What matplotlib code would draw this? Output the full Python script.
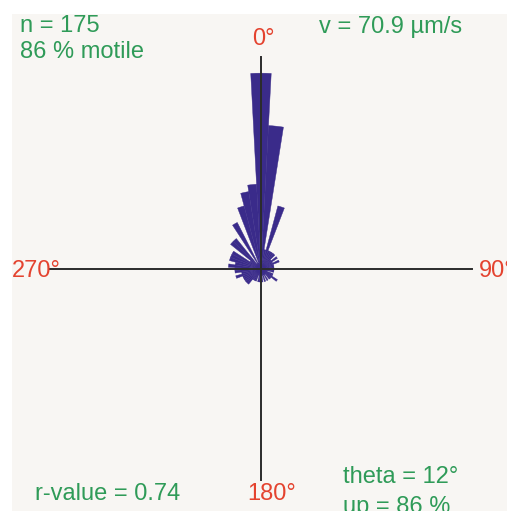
import numpy as np
import matplotlib
matplotlib.use('Agg')
import matplotlib.pyplot as plt
from matplotlib.patches import Rectangle

plt.rcParams['font.family'] = ['Liberation Sans', 'DejaVu Sans']

# rose histogram, 6 degree bins, clockwise from north
bin_deg = np.arange(0, 360, 6)
counts = [30, 22, 3, 10, 3, 3, 3, 3, 2, 3,
          2, 3, 2, 2, 2, 2, 2, 2, 1, 2,
          2, 3, 2, 2, 1, 2, 1, 2, 1, 2,
          2, 2, 2, 1, 2, 2, 2, 3, 3, 3,
          3, 3, 4, 3, 4, 4, 5, 4, 5, 5,
          5, 2, 6, 6, 1, 8, 1, 10, 12, 13]
r_max = 32.4

top_left = ['n = 175', '86 % motile']
top_right = 'v = 70.9 µm/s'
bottom_left = 'r-value = 0.74'
bottom_right = ['theta = 12°', 'up = 86 %']
dir_labels = ['0°', '90°', '180°', '270°']

green = '#2f9b58'
red = '#e4432f'
bar_col = '#3a2b8a'
fs = 17

fig = plt.figure(figsize=(5.07, 5.11), dpi=100)
fig.patch.set_facecolor('white')
fig.add_artist(Rectangle((12/507, 0), 1, 1 - 14/511, transform=fig.transFigure,
                         facecolor='#f8f6f3', edgecolor='none', zorder=-5))

ax = fig.add_axes([0.0976, 0.0597, 0.8343, 0.8278], projection='polar')
ax.set_theta_zero_location('N')
ax.set_theta_direction(-1)
ax.bar(np.deg2rad(bin_deg), counts, width=np.deg2rad(6), color=bar_col,
       edgecolor=bar_col, linewidth=0.3, align='center', zorder=2)
for a in [0, 90, 180, 270]:
    ax.plot([np.deg2rad(a), np.deg2rad(a)], [0, r_max], color='#2b2b2b', lw=1.4,
            zorder=3, clip_on=False)
ax.set_ylim(0, r_max)
ax.axis('off')

fig.text(20/507, 1 - 32/511, top_left[0], color=green, fontsize=fs)
fig.text(20/507, 1 - 58/511, top_left[1], color=green, fontsize=fs)
fig.text(319/507, 1 - 33/511, top_right, color=green, fontsize=fs)
fig.text(35/507, 1 - 500/511, bottom_left, color=green, fontsize=fs)
fig.text(343/507, 1 - 483/511, bottom_right[0], color=green, fontsize=fs)
fig.text(343/507, 1 - 513/511, bottom_right[1], color=green, fontsize=fs)

fig.text(252/507, 1 - 45/511, dir_labels[0], color=red, fontsize=fs)
fig.text(479/507, 1 - 277/511, dir_labels[1], color=red, fontsize=fs)
fig.text(247/507, 1 - 500/511, dir_labels[2], color=red, fontsize=fs)
fig.text(12/507, 1 - 277/511, dir_labels[3], color=red, fontsize=fs)

fig.savefig('out.png', dpi=100)
